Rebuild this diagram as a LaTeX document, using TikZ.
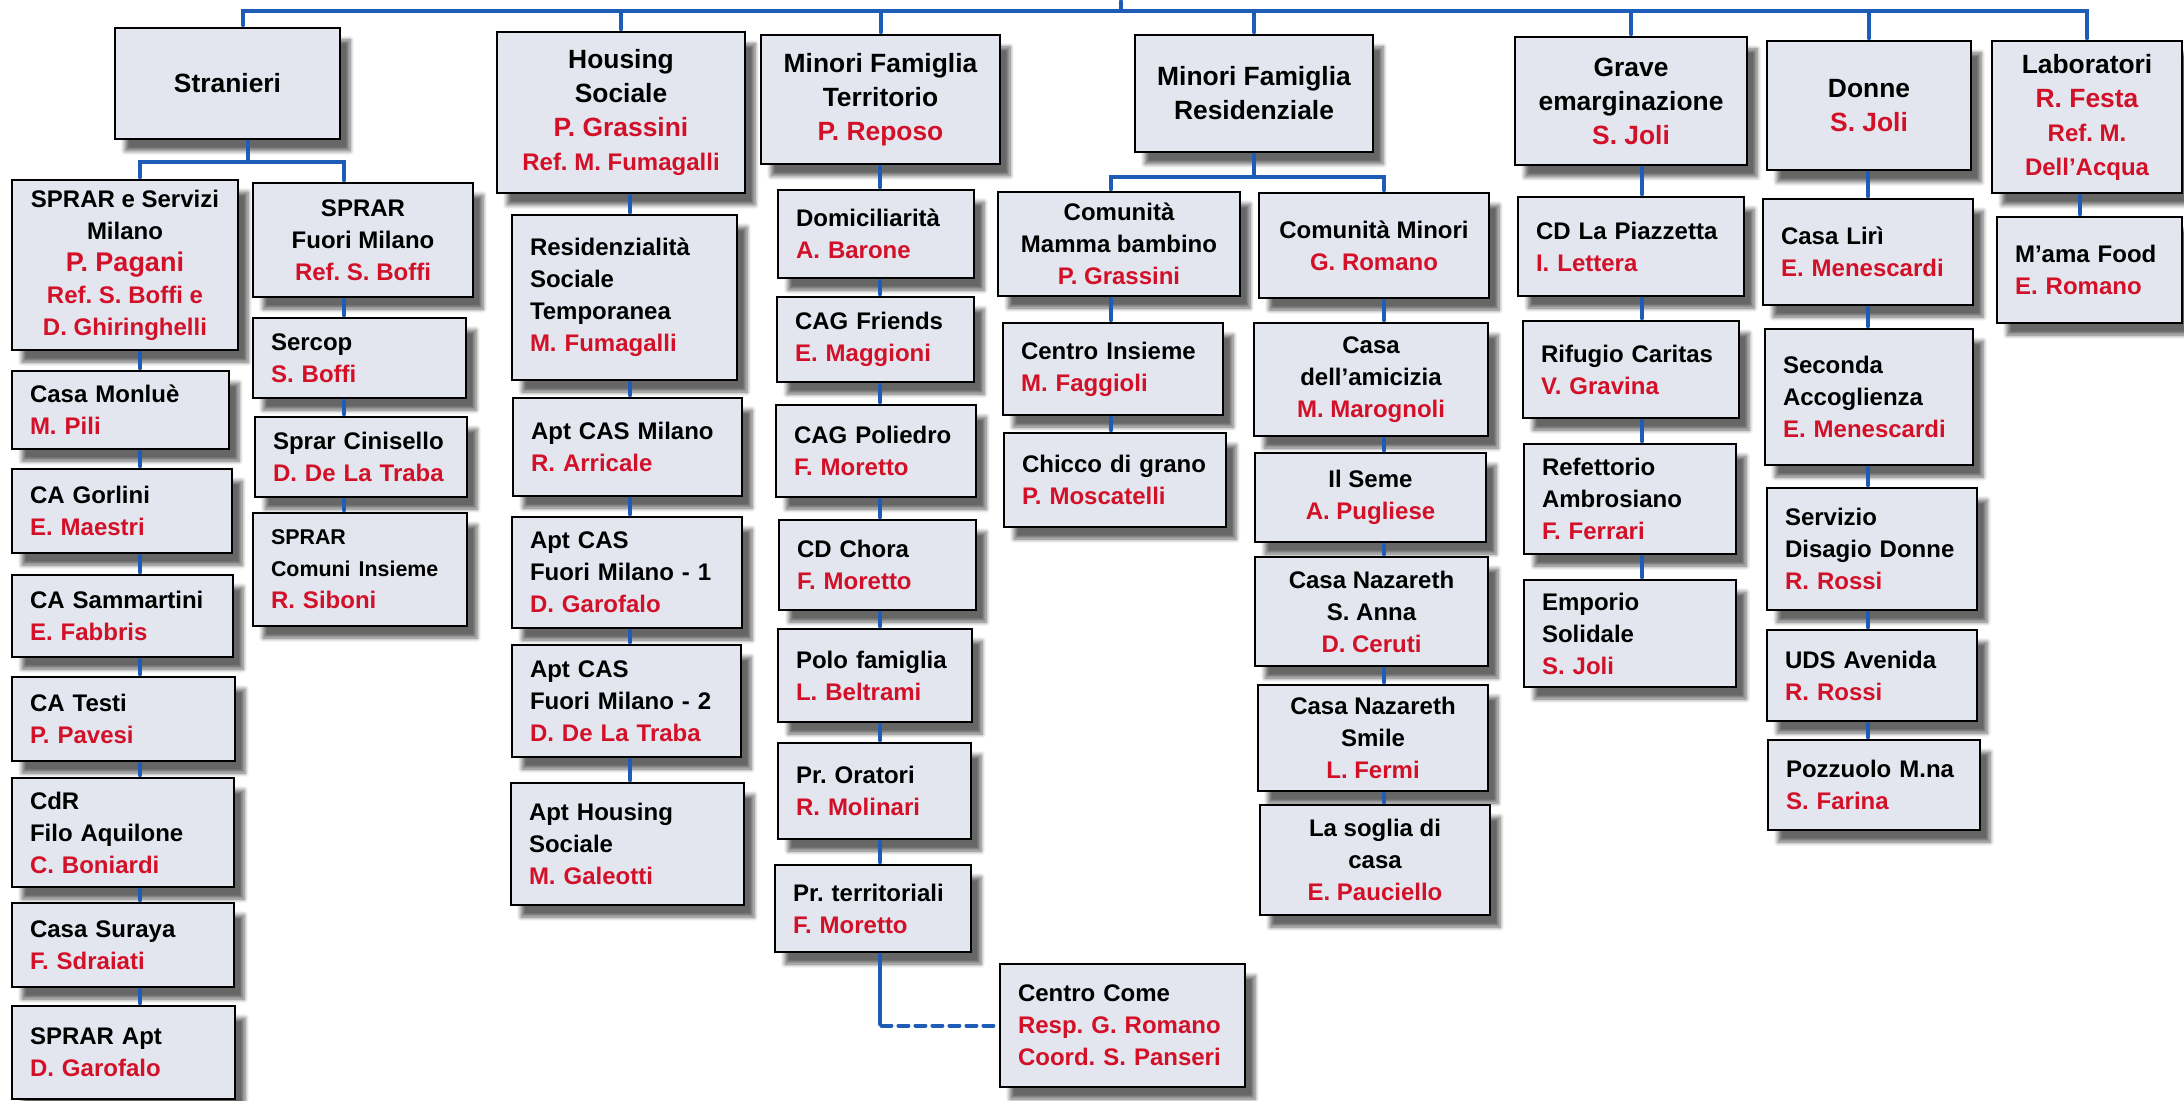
\documentclass[tikz,border=0pt]{standalone}
\usepackage{fontspec}
\setmainfont{Liberation Sans}
\usetikzlibrary{shadows.blur}
\frenchspacing

\definecolor{boxfill}{RGB}{227,230,238}
\definecolor{namered}{RGB}{210,16,40}
\definecolor{linkblue}{RGB}{30,92,184}

\newcommand{\who}[1]{\textcolor{namered}{#1}}
\newcommand{\refsize}{\fontsize{12}{16}\selectfont}
% box from corner (#3,#4) to corner (#5,#6), in pixels of the scan
\newcommand{\orgcell}[7][boxl]{%
  \pgfmathsetmacro\cellw{(#5-#3)*0.5}%
  \pgfmathsetmacro\cellh{(#6-#4)*0.5}%
  \pgfmathsetmacro\celltw{\cellw-18}%
  \node[#1, minimum width=\cellw pt, minimum height=\cellh pt] (#2) at ({(#3+#5)/2},{(#4+#6)/2}) {#7};}

\begin{document}
\begin{tikzpicture}[x=0.5pt,y=-0.5pt,line cap=round,
  ubase/.style={draw=black, line width=1.4pt, fill=boxfill, inner xsep=9pt, inner ysep=2pt,
    font=\bfseries\fontsize{12}{16}\selectfont,
    blur shadow={shadow xshift=5pt, shadow yshift=-6pt, shadow blur steps=6, shadow opacity=60}},
  boxl/.style={ubase, align=left, text width=\celltw pt},
  boxc/.style={ubase, align=center, inner xsep=3pt},
  boxt/.style={boxc, font=\bfseries\fontsize{13.2}{17}\selectfont},
  link/.style={draw=linkblue, line width=2pt, shorten <=0.7pt, shorten >=0.7pt}]

\useasboundingbox (0,0) rectangle (2184,1101);

% Stranieri
\orgcell[boxt]{stran}{115}{28}{340}{139}{Stranieri}
\orgcell[boxc]{ssm}{12}{180}{238}{350}{SPRAR e Servizi\\Milano\\{\fontsize{13.5}{16}\selectfont\who{P. Pagani}}\\\who{Ref. S. Boffi e}\\\who{D. Ghiringhelli}}
\orgcell[boxc]{sfm}{253}{183}{473}{297}{SPRAR\\Fuori Milano\\\who{Ref. S. Boffi}}
\orgcell{mon}{12}{371}{229}{449}{Casa Monluè\\\who{M. Pili}}
\orgcell{gor}{12}{469}{232}{553}{CA Gorlini\\\who{E. Maestri}}
\orgcell{sam}{12}{575}{233}{657}{CA Sammartini\\\who{E. Fabbris}}
\orgcell{tes}{12}{677}{235}{761}{CA Testi\\\who{P. Pavesi}}
\orgcell{cdr}{12}{778}{234}{887}{CdR\\Filo Aquilone\\\who{C. Boniardi}}
\orgcell{sur}{12}{903}{234}{987}{Casa Suraya\\\who{F. Sdraiati}}
\orgcell{apt}{12}{1006}{235}{1099}{SPRAR Apt\\\who{D. Garofalo}}
\orgcell{ser}{253}{318}{466}{398}{Sercop\\\who{S. Boffi}}
\orgcell{cin}{255}{417}{467}{497}{Sprar Cinisello\\\who{D. De La Traba}}
\orgcell{com}{253}{513}{467}{626}{{\fontsize{10.7}{15}\selectfont SPRAR\\Comuni Insieme}\\\who{R. Siboni}}

% Housing Sociale
\orgcell[boxt]{hs}{497}{32}{745}{193}{Housing\\Sociale\\\who{P. Grassini}\\{\refsize\who{Ref. M. Fumagalli}}}
\orgcell{res}{512}{215}{737}{380}{Residenzialità\\Sociale\\Temporanea\\\who{M. Fumagalli}}
\orgcell{acm}{513}{398}{742}{496}{Apt CAS Milano\\\who{R. Arricale}}
\orgcell{af1}{512}{517}{742}{628}{Apt CAS\\Fuori Milano - 1\\\who{D. Garofalo}}
\orgcell{af2}{512}{645}{741}{757}{Apt CAS\\Fuori Milano - 2\\\who{D. De La Traba}}
\orgcell{ahs}{511}{783}{744}{905}{Apt Housing\\Sociale\\\who{M. Galeotti}}

% Minori Famiglia Territorio
\orgcell[boxt]{mft}{761}{35}{1000}{164}{Minori Famiglia\\Territorio\\\who{P. Reposo}}
\orgcell{dom}{778}{190}{974}{278}{Domiciliarità\\\who{A. Barone}}
\orgcell{fri}{777}{297}{974}{382}{CAG Friends\\\who{E. Maggioni}}
\orgcell{pol}{776}{405}{976}{497}{CAG Poliedro\\\who{F. Moretto}}
\orgcell{cho}{779}{520}{976}{610}{CD Chora\\\who{F. Moretto}}
\orgcell{fam}{778}{629}{972}{722}{Polo famiglia\\\who{L. Beltrami}}
\orgcell{ora}{778}{743}{971}{839}{Pr. Oratori\\\who{R. Molinari}}
\orgcell{ter}{775}{865}{971}{952}{Pr. territoriali\\\who{F. Moretto}}
\orgcell{come}{1000}{964}{1245}{1087}{Centro Come\\\who{Resp. G. Romano}\\\who{Coord. S. Panseri}}

% Minori Famiglia Residenziale
\orgcell[boxt]{mfr}{1135}{35}{1373}{152}{Minori Famiglia\\Residenziale}
\orgcell[boxc]{cmb}{998}{192}{1240}{296}{Comunità\\Mamma bambino\\\who{P. Grassini}}
\orgcell{ins}{1003}{323}{1223}{415}{Centro Insieme\\\who{M. Faggioli}}
\orgcell{chi}{1004}{433}{1226}{527}{Chicco di grano\\\who{P. Moscatelli}}
\orgcell[boxc]{cmi}{1259}{193}{1489}{298}{Comunità Minori\\\who{G. Romano}}
\orgcell[boxc]{ami}{1254}{323}{1488}{436}{Casa\\dell’amicizia\\\who{M. Marognoli}}
\orgcell[boxc]{sem}{1255}{453}{1486}{542}{Il Seme\\\who{A. Pugliese}}
\orgcell[boxc]{san}{1255}{557}{1488}{666}{Casa Nazareth\\S. Anna\\\who{D. Ceruti}}
\orgcell[boxc]{smi}{1258}{685}{1488}{791}{Casa Nazareth\\Smile\\\who{L. Fermi}}
\orgcell[boxc]{sog}{1260}{805}{1490}{915}{La soglia di\\casa\\\who{E. Pauciello}}

% Grave emarginazione
\orgcell[boxt]{gra}{1515}{37}{1747}{165}{Grave\\emarginazione\\\who{S. Joli}}
\orgcell{piz}{1518}{197}{1744}{296}{CD La Piazzetta\\\who{I. Lettera}}
\orgcell{rif}{1523}{321}{1739}{418}{Rifugio Caritas\\\who{V. Gravina}}
\orgcell{ref}{1524}{444}{1736}{554}{Refettorio\\Ambrosiano\\\who{F. Ferrari}}
\orgcell{emp}{1524}{580}{1736}{687}{Emporio\\Solidale\\\who{S. Joli}}

% Donne
\orgcell[boxt]{don}{1767}{41}{1971}{170}{Donne\\\who{S. Joli}}
\orgcell{lir}{1763}{199}{1973}{305}{Casa Lirì\\\who{E. Menescardi}}
\orgcell{sec}{1765}{329}{1973}{465}{Seconda\\Accoglienza\\\who{E. Menescardi}}
\orgcell{dis}{1767}{488}{1977}{610}{Servizio\\Disagio Donne\\\who{R. Rossi}}
\orgcell{uds}{1767}{630}{1977}{721}{UDS Avenida\\\who{R. Rossi}}
\orgcell{poz}{1768}{740}{1980}{830}{Pozzuolo M.na\\\who{S. Farina}}

% Laboratori
\orgcell[boxt]{lab}{1992}{41}{2182}{193}{Laboratori\\\who{R. Festa}\\{\refsize\who{Ref. M.}}\\{\refsize\who{Dell’Acqua}}}
\orgcell{mam}{1997}{217}{2182}{323}{M’ama Food\\\who{E. Romano}}

% connectors
\coordinate (top) at (1121,0);
\coordinate (sbus) at (243,11);
\draw[link] (top) -- (top |- sbus);
\draw[link] (stran.north -| sbus) -- (sbus) -- (lab.north |- sbus) -- (lab.north);
\foreach \n in {hs,mft,mfr,gra,don}
  \draw[link] (\n.north) -- (\n.north |- sbus);

\coordinate (sl) at (140,162);
\coordinate (sr) at (344,162);
\coordinate (sd) at (248,162);
\draw[link] (stran.south -| sd) -- (sd);
\draw[link] (ssm.north -| sl) -- (sl) -- (sr) -- (sfm.north -| sr);
\foreach \a/\b in {ssm/mon,mon/gor,gor/sam,sam/tes,tes/cdr,cdr/sur,sur/apt}
  \draw[link] (\a.south -| sl) -- (\b.north -| sl);
\foreach \a/\b in {sfm/ser,ser/cin,cin/com}
  \draw[link] (\a.south -| sr) -- (\b.north -| sr);

\coordinate (hx) at (630,0);
\foreach \a/\b in {hs/res,res/acm,acm/af1,af1/af2,af2/ahs}
  \draw[link] (\a.south -| hx) -- (\b.north -| hx);

\coordinate (mx) at (880,0);
\foreach \a/\b in {mft/dom,dom/fri,fri/pol,pol/cho,cho/fam,fam/ora,ora/ter}
  \draw[link] (\a.south -| mx) -- (\b.north -| mx);
\draw[link] (ter.south -| mx) -- (come.west -| mx);
\draw[link, dash pattern=on 5pt off 3.5pt] (come.west -| mx) -- (come.west);

\coordinate (rl) at (1111,177);
\coordinate (rr) at (1384,177);
\draw[link] (mfr.south) -- (mfr.south |- rl);
\draw[link] (cmb.north -| rl) -- (rl) -- (rr) -- (cmi.north -| rr);
\foreach \a/\b in {cmb/ins,ins/chi}
  \draw[link] (\a.south -| rl) -- (\b.north -| rl);
\foreach \a/\b in {cmi/ami,ami/sem,sem/san,san/smi,smi/sog}
  \draw[link] (\a.south -| rr) -- (\b.north -| rr);

\coordinate (gx) at (1642,0);
\foreach \a/\b in {gra/piz,piz/rif,rif/ref,ref/emp}
  \draw[link] (\a.south -| gx) -- (\b.north -| gx);

\coordinate (dx) at (1868,0);
\foreach \a/\b in {don/lir,lir/sec,sec/dis,dis/uds,uds/poz}
  \draw[link] (\a.south -| dx) -- (\b.north -| dx);

\coordinate (lx) at (2080,0);
\draw[link] (lab.south -| lx) -- (mam.north -| lx);

\end{tikzpicture}
\end{document}
